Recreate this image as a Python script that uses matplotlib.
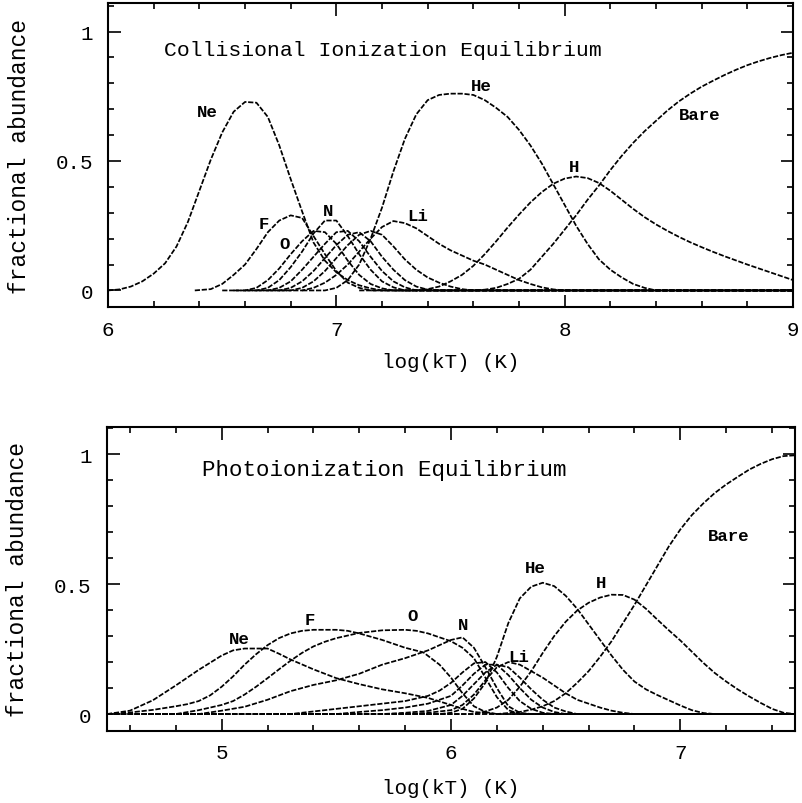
import matplotlib
matplotlib.use("Agg")
import matplotlib.pyplot as plt
from matplotlib.ticker import MultipleLocator

MONO = "Liberation Mono"

# ---------------- Collisional ionization equilibrium (top) ----------------
cie_ne_x = [6.00, 6.05, 6.10, 6.15, 6.20, 6.25, 6.30, 6.35, 6.40, 6.45, 6.50, 6.55, 6.60, 6.65,
            6.70, 6.75, 6.80, 6.85, 6.90, 6.95, 7.00, 7.05, 7.10, 7.15, 7.20, 9.00]
cie_ne_y = [0.0, 0.004, 0.015, 0.035, 0.065, 0.105, 0.17, 0.265, 0.385, 0.505, 0.61, 0.69, 0.728, 0.725,
            0.67, 0.56, 0.43, 0.305, 0.185, 0.115, 0.07, 0.04, 0.02, 0.008, 0.0, 0.0]
cie_f_x = [6.38, 6.45, 6.50, 6.55, 6.60, 6.65, 6.70, 6.75, 6.80, 6.85, 6.90, 6.95, 7.00, 7.05, 7.10, 7.15, 9.00]
cie_f_y = [0.0, 0.005, 0.025, 0.06, 0.10, 0.16, 0.225, 0.27, 0.29, 0.28, 0.21, 0.14, 0.075, 0.03, 0.01, 0.0, 0.0]
cie_o_x = [6.50, 6.60, 6.65, 6.70, 6.75, 6.80, 6.85, 6.90, 6.95, 7.00, 7.05, 7.10, 7.15, 7.20, 7.25, 9.00]
cie_o_y = [0.0, 0.0, 0.01, 0.04, 0.085, 0.14, 0.19, 0.23, 0.225, 0.18, 0.115, 0.06, 0.025, 0.008, 0.0, 0.0]
cie_n_x = [6.55, 6.65, 6.70, 6.75, 6.80, 6.85, 6.90, 6.95, 7.00, 7.05, 7.10, 7.15, 7.20, 7.25, 7.30, 9.00]
cie_n_y = [0.0, 0.0, 0.01, 0.04, 0.09, 0.15, 0.22, 0.27, 0.27, 0.21, 0.14, 0.08, 0.035, 0.012, 0.0, 0.0]
cie_c_x = [6.60, 6.70, 6.75, 6.80, 6.85, 6.90, 6.95, 7.00, 7.05, 7.10, 7.15, 7.20, 7.25, 7.30, 7.35, 9.00]
cie_c_y = [0.0, 0.0, 0.01, 0.035, 0.08, 0.13, 0.18, 0.225, 0.23, 0.19, 0.13, 0.075, 0.035, 0.012, 0.0, 0.0]
cie_b_x = [6.65, 6.75, 6.80, 6.85, 6.90, 6.95, 7.00, 7.05, 7.10, 7.15, 7.20, 7.25, 7.30, 7.35, 7.40, 7.45, 9.00]
cie_b_y = [0.0, 0.0, 0.01, 0.035, 0.075, 0.125, 0.175, 0.215, 0.225, 0.19, 0.13, 0.08, 0.04, 0.015, 0.003, 0.0, 0.0]
cie_be_x = [6.70, 6.80, 6.85, 6.90, 6.95, 7.00, 7.05, 7.10, 7.15, 7.20, 7.25, 7.30, 7.35, 7.40, 7.45,
            7.50, 7.55, 7.60, 9.00]
cie_be_y = [0.0, 0.0, 0.01, 0.035, 0.075, 0.125, 0.175, 0.215, 0.23, 0.215, 0.17, 0.12, 0.08, 0.05, 0.03,
            0.015, 0.005, 0.0, 0.0]
cie_li_x = [6.75, 6.85, 6.90, 6.95, 7.00, 7.05, 7.10, 7.15, 7.20, 7.25, 7.30, 7.35, 7.40, 7.45, 7.50,
            7.55, 7.60, 7.65, 7.70, 7.75, 7.80, 7.85, 7.90, 7.95, 8.00, 9.00]
cie_li_y = [0.0, 0.0, 0.01, 0.03, 0.06, 0.10, 0.15, 0.20, 0.245, 0.268, 0.26, 0.24, 0.21, 0.18, 0.155,
            0.135, 0.115, 0.10, 0.08, 0.06, 0.04, 0.025, 0.012, 0.004, 0.0, 0.0]
cie_he_x = [6.85, 6.95, 7.00, 7.05, 7.10, 7.15, 7.20, 7.25, 7.30, 7.35, 7.40, 7.45, 7.50, 7.55, 7.60,
            7.65, 7.70, 7.75, 7.80, 7.85, 7.90, 7.95, 8.00, 8.05, 8.10, 8.15, 8.20, 8.25, 8.30, 8.35, 8.40, 9.00]
cie_he_y = [0.0, 0.0, 0.01, 0.04, 0.10, 0.20, 0.32, 0.46, 0.585, 0.68, 0.735, 0.755, 0.76, 0.76, 0.755,
            0.735, 0.705, 0.67, 0.62, 0.56, 0.49, 0.41, 0.33, 0.25, 0.18, 0.12, 0.08, 0.05, 0.025, 0.01, 0.0, 0.0]
cie_h_x = [7.10, 7.35, 7.40, 7.45, 7.50, 7.55, 7.60, 7.65, 7.70, 7.75, 7.80, 7.85, 7.90, 7.95, 8.00,
           8.05, 8.10, 8.15, 8.20, 8.25, 8.30, 8.35, 8.40, 8.45, 8.50, 8.55, 8.60, 8.65, 8.70, 8.75,
           8.80, 8.85, 8.90, 8.95, 9.00]
cie_h_y = [0.0, 0.0, 0.005, 0.015, 0.035, 0.06, 0.095, 0.14, 0.19, 0.243, 0.293, 0.34, 0.38, 0.412, 0.432,
           0.44, 0.434, 0.415, 0.385, 0.35, 0.315, 0.283, 0.255, 0.23, 0.207, 0.186, 0.167, 0.149, 0.132, 0.116,
           0.10, 0.085, 0.07, 0.055, 0.04]
cie_bare_x = [7.40, 7.60, 7.65, 7.70, 7.75, 7.80, 7.85, 7.90, 7.95, 8.00, 8.05, 8.10, 8.15, 8.20, 8.25,
              8.30, 8.35, 8.40, 8.45, 8.50, 8.55, 8.60, 8.65, 8.70, 8.75, 8.80, 8.85, 8.90, 8.95, 9.00]
cie_bare_y = [0.0, 0.0, 0.003, 0.01, 0.025, 0.045, 0.08, 0.13, 0.18, 0.235, 0.29, 0.35, 0.405, 0.465, 0.52,
              0.57, 0.615, 0.655, 0.695, 0.73, 0.76, 0.787, 0.81, 0.832, 0.852, 0.87, 0.885, 0.898, 0.909, 0.918]

cie_curves = [(cie_ne_x, cie_ne_y), (cie_f_x, cie_f_y), (cie_o_x, cie_o_y), (cie_n_x, cie_n_y),
              (cie_c_x, cie_c_y), (cie_b_x, cie_b_y), (cie_be_x, cie_be_y), (cie_li_x, cie_li_y),
              (cie_he_x, cie_he_y), (cie_h_x, cie_h_y), (cie_bare_x, cie_bare_y)]
cie_labels = ["Ne", "F", "O", "N", "Li", "He", "H", "Bare"]
cie_label_x = [6.39, 6.66, 6.75, 6.94, 7.31, 7.59, 8.02, 8.50]
cie_label_y = [0.69, 0.26, 0.18, 0.31, 0.29, 0.79, 0.48, 0.68]

# ---------------- Photoionization equilibrium (bottom) ----------------
pie_ne_x = [4.50, 4.60, 4.70, 4.80, 4.90, 5.00, 5.05, 5.10, 5.20, 5.25, 5.30, 5.40, 5.50, 5.60, 5.70,
            5.80, 5.90, 6.00, 6.05, 6.10, 6.20, 7.50]
pie_ne_y = [0.0, 0.013, 0.053, 0.11, 0.17, 0.225, 0.245, 0.252, 0.252, 0.232, 0.21, 0.172, 0.138, 0.115,
            0.095, 0.08, 0.062, 0.035, 0.02, 0.008, 0.0, 0.0]
pie_f_x = [4.50, 4.60, 4.70, 4.80, 4.85, 4.90, 4.95, 5.00, 5.05, 5.10, 5.15, 5.20, 5.25, 5.30, 5.35,
           5.40, 5.50, 5.55, 5.60, 5.70, 5.80, 5.88, 5.95, 6.00, 6.05, 6.10, 6.15, 6.20, 7.50]
pie_f_y = [0.0, 0.006, 0.016, 0.03, 0.038, 0.05, 0.072, 0.105, 0.145, 0.19, 0.23, 0.265, 0.292, 0.31, 0.32,
           0.324, 0.324, 0.32, 0.31, 0.285, 0.255, 0.237, 0.19, 0.14, 0.08, 0.03, 0.008, 0.0, 0.0]
pie_o_x = [4.50, 4.80, 4.90, 5.00, 5.05, 5.10, 5.15, 5.20, 5.25, 5.30, 5.35, 5.40, 5.45, 5.50, 5.60,
           5.70, 5.80, 5.85, 5.90, 5.95, 6.00, 6.05, 6.10, 6.15, 6.20, 6.25, 6.30, 7.50]
pie_o_y = [0.0, 0.0, 0.015, 0.035, 0.05, 0.075, 0.105, 0.138, 0.172, 0.205, 0.235, 0.26, 0.278, 0.292, 0.312,
           0.322, 0.324, 0.32, 0.31, 0.295, 0.28, 0.255, 0.215, 0.14, 0.065, 0.015, 0.0, 0.0]
pie_n_x = [4.50, 4.90, 5.00, 5.10, 5.20, 5.30, 5.40, 5.50, 5.60, 5.70, 5.80, 5.90, 6.00, 6.05, 6.10,
           6.15, 6.20, 6.25, 6.30, 6.35, 7.50]
pie_n_y = [0.0, 0.0, 0.013, 0.028, 0.055, 0.088, 0.112, 0.13, 0.155, 0.19, 0.215, 0.245, 0.285, 0.295, 0.255,
           0.18, 0.10, 0.03, 0.005, 0.0, 0.0]
pie_c_x = [4.50, 5.30, 5.40, 5.50, 5.60, 5.70, 5.80, 5.90, 5.95, 6.00, 6.05, 6.10, 6.15, 6.20, 6.25,
           6.30, 6.35, 6.40, 6.45, 7.50]
pie_c_y = [0.0, 0.0, 0.01, 0.02, 0.03, 0.04, 0.05, 0.07, 0.09, 0.12, 0.16, 0.195, 0.20, 0.16, 0.10,
           0.05, 0.02, 0.005, 0.0, 0.0]
pie_b_x = [4.50, 5.50, 5.60, 5.70, 5.80, 5.90, 6.00, 6.05, 6.10, 6.15, 6.20, 6.25, 6.30, 6.35, 6.40,
           6.45, 6.50, 7.50]
pie_b_y = [0.0, 0.0, 0.008, 0.015, 0.025, 0.04, 0.07, 0.11, 0.155, 0.19, 0.19, 0.15, 0.10, 0.055, 0.025,
           0.008, 0.0, 0.0]
pie_be_x = [4.50, 5.70, 5.80, 5.90, 6.00, 6.05, 6.10, 6.15, 6.20, 6.25, 6.30, 6.35, 6.40, 6.45, 6.50,
            6.55, 7.50]
pie_be_y = [0.0, 0.0, 0.005, 0.012, 0.035, 0.07, 0.115, 0.16, 0.19, 0.18, 0.14, 0.095, 0.055, 0.025, 0.01,
            0.0, 0.0]
pie_li_x = [4.50, 5.80, 5.90, 6.00, 6.05, 6.10, 6.15, 6.20, 6.25, 6.30, 6.35, 6.40, 6.45, 6.50, 6.55,
            6.60, 6.65, 6.70, 6.75, 6.80, 7.50]
pie_li_y = [0.0, 0.0, 0.005, 0.015, 0.035, 0.075, 0.13, 0.18, 0.20, 0.19, 0.165, 0.14, 0.11, 0.08, 0.055,
            0.04, 0.025, 0.013, 0.005, 0.0, 0.0]
pie_he_x = [4.50, 5.95, 6.00, 6.05, 6.10, 6.15, 6.20, 6.25, 6.30, 6.35, 6.40, 6.45, 6.50, 6.55, 6.60,
            6.65, 6.70, 6.75, 6.80, 6.85, 6.90, 6.95, 7.00, 7.05, 7.10, 7.15, 7.50]
pie_he_y = [0.0, 0.0, 0.005, 0.02, 0.06, 0.12, 0.22, 0.35, 0.445, 0.49, 0.505, 0.492, 0.455, 0.405, 0.345,
            0.285, 0.225, 0.17, 0.125, 0.095, 0.073, 0.053, 0.033, 0.015, 0.004, 0.0, 0.0]
pie_h_x = [4.50, 6.10, 6.15, 6.20, 6.25, 6.30, 6.35, 6.40, 6.45, 6.50, 6.55, 6.60, 6.65, 6.70, 6.75,
           6.80, 6.85, 6.90, 6.95, 7.00, 7.05, 7.10, 7.15, 7.20, 7.25, 7.30, 7.35, 7.40, 7.45, 7.50]
pie_h_y = [0.0, 0.0, 0.01, 0.025, 0.055, 0.105, 0.165, 0.235, 0.30, 0.355, 0.398, 0.428, 0.448, 0.459, 0.458,
           0.44, 0.405, 0.363, 0.322, 0.283, 0.24, 0.197, 0.158, 0.125, 0.095, 0.068, 0.043, 0.02, 0.005, 0.0]
pie_bare_x = [4.50, 6.20, 6.30, 6.35, 6.40, 6.45, 6.50, 6.55, 6.60, 6.65, 6.70, 6.75, 6.80, 6.85, 6.90,
              6.95, 7.00, 7.05, 7.10, 7.15, 7.20, 7.25, 7.30, 7.35, 7.40, 7.45, 7.50]
pie_bare_y = [0.0, 0.0, 0.008, 0.017, 0.03, 0.05, 0.08, 0.12, 0.165, 0.22, 0.28, 0.35, 0.42, 0.495, 0.57,
              0.645, 0.71, 0.765, 0.81, 0.85, 0.883, 0.912, 0.94, 0.962, 0.98, 0.992, 0.995]

pie_curves = [(pie_ne_x, pie_ne_y), (pie_f_x, pie_f_y), (pie_o_x, pie_o_y), (pie_n_x, pie_n_y),
              (pie_c_x, pie_c_y), (pie_b_x, pie_b_y), (pie_be_x, pie_be_y), (pie_li_x, pie_li_y),
              (pie_he_x, pie_he_y), (pie_h_x, pie_h_y), (pie_bare_x, pie_bare_y)]
pie_labels = ["Ne", "F", "O", "N", "Li", "He", "H", "Bare"]
pie_label_x = [5.03, 5.36, 5.81, 6.03, 6.25, 6.32, 6.63, 7.12]
pie_label_y = [0.29, 0.365, 0.378, 0.346, 0.22, 0.565, 0.507, 0.685]

panels = [
    dict(curves=cie_curves, labels=cie_labels, lx=cie_label_x, ly=cie_label_y,
         title="Collisional Ionization Equilibrium", title_xy=(6.245, 0.93), title_size=15.4,
         xlim=(6, 9), ylim=(-0.064, 1.110), xticks=[6, 7, 8, 9],
         rect=[0.1347, 0.6169, 0.8541, 0.3781], xlab_y=-0.148),
    dict(curves=pie_curves, labels=pie_labels, lx=pie_label_x, ly=pie_label_y,
         title="Photoionization Equilibrium", title_xy=(4.914, 0.942), title_size=16.2,
         xlim=(4.5, 7.5), ylim=(-0.065, 1.104), xticks=[5, 6, 7],
         rect=[0.1334, 0.0896, 0.8579, 0.3781], xlab_y=-0.155),
]

fig = plt.figure(figsize=(8.02, 8.04), dpi=100)
for p in panels:
    ax = fig.add_axes(p["rect"])
    for xs, ys in p["curves"]:
        ax.plot(xs, ys, color="black", lw=1.25, linestyle=(0, (3.0, 1.0)))
    for lab, x, y in zip(p["labels"], p["lx"], p["ly"]):
        ax.text(x, y, lab, fontfamily=MONO, fontweight="bold", fontsize=12.5,
                ha="left", va="center")
    ax.text(p["title_xy"][0], p["title_xy"][1], p["title"], fontfamily=MONO,
            fontsize=p["title_size"], ha="left", va="center")
    ax.set_xlim(*p["xlim"])
    ax.set_ylim(*p["ylim"])
    ax.set_xticks(p["xticks"])
    ax.set_yticks([0, 0.5, 1])
    ax.set_yticklabels(["0", "0.5", "1"])
    ax.xaxis.set_minor_locator(MultipleLocator(0.2))
    ax.yaxis.set_minor_locator(MultipleLocator(0.1))
    ax.tick_params(which="both", direction="in", top=True, right=True, width=1.2)
    ax.tick_params(which="major", length=9)
    ax.tick_params(which="minor", length=4.5)
    ax.tick_params(axis="x", which="major", pad=9)
    ax.tick_params(axis="y", which="major", pad=11)
    for lbl in ax.get_xticklabels() + ax.get_yticklabels():
        lbl.set_fontfamily(MONO)
        lbl.set_fontsize(15)
    for s in ax.spines.values():
        s.set_linewidth(1.5)
    ax.set_xlabel("log(kT) (K)", fontfamily=MONO, fontsize=15)
    ax.set_ylabel("fractional abundance", fontfamily=MONO, fontsize=16.5)
    ax.xaxis.set_label_coords(0.5, p["xlab_y"])
    ax.yaxis.set_label_coords(-0.113, 0.5)

fig.savefig("out.png", dpi=100)
